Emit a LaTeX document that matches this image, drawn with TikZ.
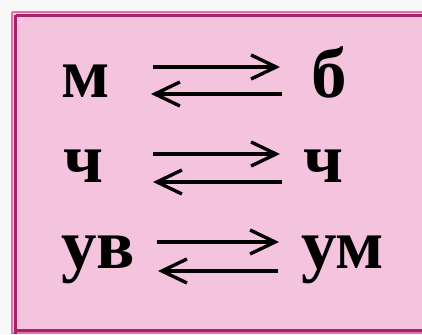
\documentclass[tikz,border=0pt]{standalone}
\usepackage{fontspec}
\setmainfont{Liberation Serif}
\usetikzlibrary{arrows.meta}
\definecolor{bgout}{HTML}{F8F8F8}
\definecolor{boxfill}{HTML}{F4C4DE}
\definecolor{boxline}{HTML}{A8246A}
\definecolor{boxouter}{HTML}{E070B0}
\tikzset{
  chem/.style={anchor=base west, inner sep=0pt, font=\bfseries\fontsize{71}{80}\selectfont},
  eqarrow/.style={line width=3.4pt, -{Straight Barb[length=25pt,width=24pt,line width=3.4pt]}}
}
\begin{document}
\begin{tikzpicture}[x=1pt,y=-1pt]
\useasboundingbox (0,0) rectangle (422,334);
\fill[bgout] (0,0) rectangle (422,334);
\begin{scope}
\clip (0,0) rectangle (422,334);
\fill[boxfill] (12,12) rectangle (430,334);
\draw[boxouter, line width=2pt] (12,12) -- (430,12);
\draw[boxouter, line width=2pt] (12,12) -- (12,334);
\draw[boxouter, line width=2pt] (12,333) -- (430,333);
\draw[boxline, line width=3pt] (15.5,15.5) -- (430,15.5);
\draw[boxline, line width=3pt] (15.5,15.5) -- (15.5,334);
\draw[boxline, line width=3pt] (15.5,330.5) -- (430,330.5);
\end{scope}
% row 1
\node[chem] (m1) at (61,97) {м};
\node[chem] (b1) at (311,97) {б};
\coordinate (a1s) at (153,67);
\coordinate (a1e) at (280,67);
\coordinate (r1s) at (282,94);
\coordinate (r1e) at (151,94);
\draw[eqarrow] (a1s) -- (a1e);
\draw[eqarrow] (r1s) -- (r1e);
% row 2
\node[chem] (c2l) at (63,182) {ч};
\node[chem] (c2r) at (303,182) {ч};
\coordinate (a2s) at (153,154);
\coordinate (a2e) at (280,154);
\coordinate (r2s) at (282,182);
\coordinate (r2e) at (153,182);
\draw[eqarrow] (a2s) -- (a2e);
\draw[eqarrow] (r2s) -- (r2e);
% row 3
\node[chem] (u3l) at (61,268) {ув};
\node[chem] (u3r) at (301,268) {ум};
\coordinate (a3s) at (157,242);
\coordinate (a3e) at (279,242);
\coordinate (r3s) at (278,271);
\coordinate (r3e) at (158,271);
\draw[eqarrow] (a3s) -- (a3e);
\draw[eqarrow] (r3s) -- (r3e);
\end{tikzpicture}
\end{document}
